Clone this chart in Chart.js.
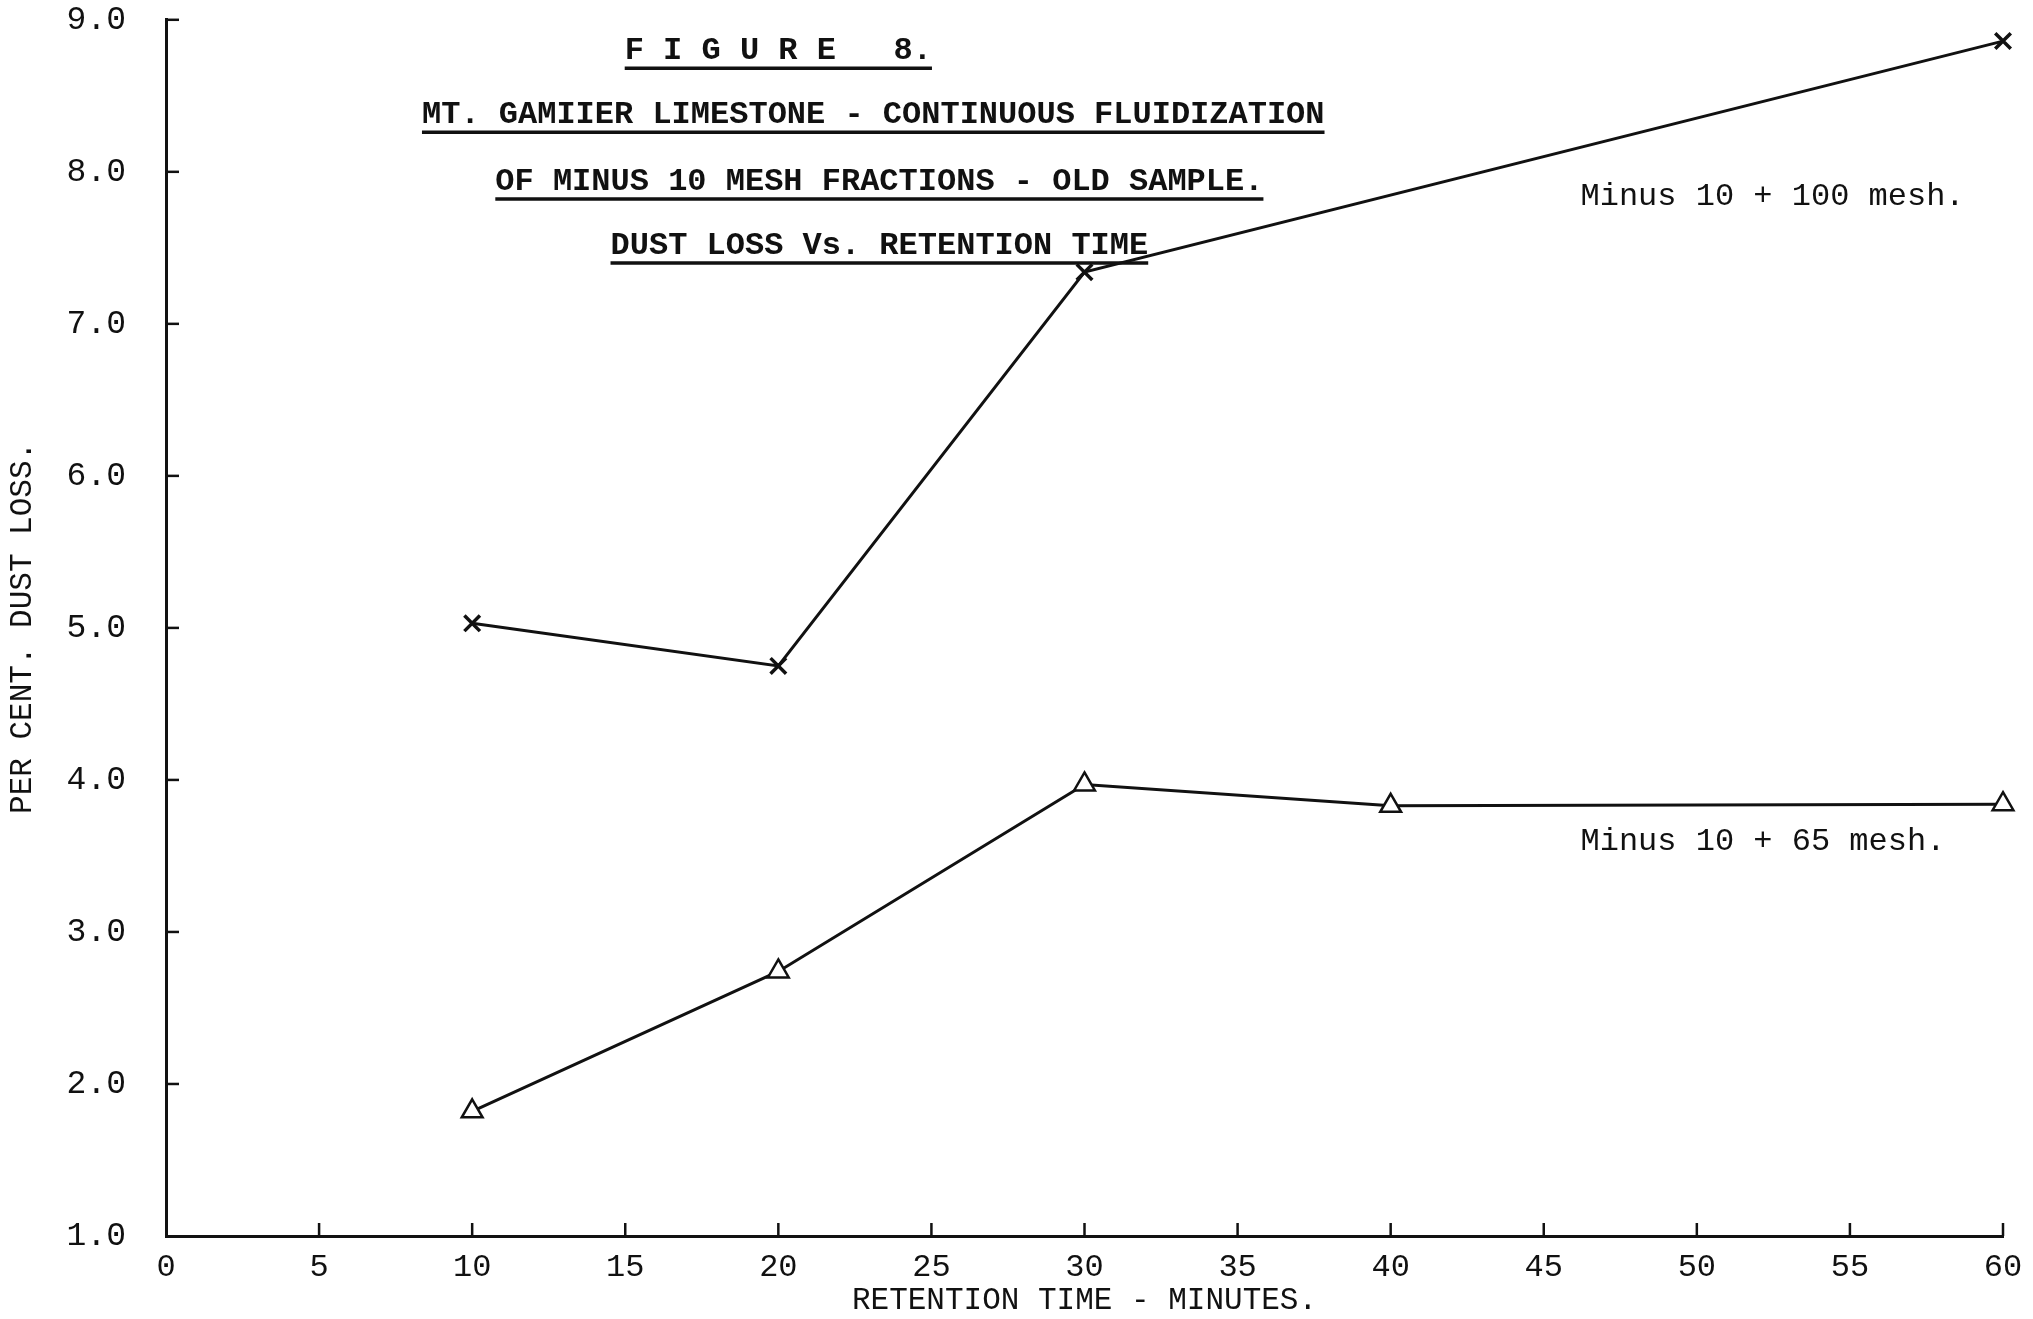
<!DOCTYPE html>
<html>
<head>
<meta charset="utf-8">
<title>Figure 8 - Dust Loss Vs. Retention Time</title>
<script src="https://cdn.jsdelivr.net/npm/chart.js@4.4.1/dist/chart.umd.min.js"></script>
<style>
  html, body { margin: 0; padding: 0; background: #ffffff; }
  #wrap { width: 2033px; height: 1319px; position: relative; }
</style>
</head>
<body>
<div id="wrap"><canvas id="dustChart"></canvas></div>
<script>
// retention time (minutes) and per cent dust loss
const timesCoarse = [10, 20, 30, 60];
const lossCoarse = [5.03, 4.75, 7.34, 8.86];    // minus 10 + 100 mesh (x marks)
const timesFine = [10, 20, 30, 40, 60];
const lossFine = [1.82, 2.74, 3.97, 3.83, 3.84]; // minus 10 + 65 mesh (triangles)

const xTickValues = [0, 5, 10, 15, 20, 25, 30, 35, 40, 45, 50, 55, 60];
const xTickLabels = ["0", "5", "10", "15", "20", "25", "30", "35", "40", "45", "50", "55", "60"];
const yTickValues = [1, 2, 3, 4, 5, 6, 7, 8, 9];
const yTickLabels = ["1.0", "2.0", "3.0", "4.0", "5.0", "6.0", "7.0", "8.0", "9.0"];

const seriesNames = ["Minus 10 + 100 mesh.", "Minus 10 + 65 mesh."];
const titleLines = [
    "F I G U R E   8.",
    "MT. GAMIIER LIMESTONE - CONTINUOUS FLUIDIZATION",
    "OF MINUS 10 MESH FRACTIONS - OLD SAMPLE.",
    "DUST LOSS Vs. RETENTION TIME"
];

const INK = "#111111";
const TYPE = "'Liberation Mono', 'Courier New', monospace";

function pairs(xs, ys) {
    return xs.map((x, i) => ({ x: x, y: ys[i] }));
}

// white paper behind everything
const paper = {
    id: "paper",
    beforeDraw(chart) {
        const ctx = chart.ctx;
        ctx.save();
        ctx.fillStyle = "#ffffff";
        ctx.fillRect(0, 0, chart.width, chart.height);
        ctx.restore();
    }
};

// short tick marks pointing into the plot, like the hand drawn axes
const innerTicks = {
    id: "innerTicks",
    afterDatasetsDraw(chart) {
        const ctx = chart.ctx;
        const xs = chart.scales.x, ys = chart.scales.y;
        const area = chart.chartArea;
        ctx.save();
        ctx.strokeStyle = INK;
        ctx.lineWidth = 2.5;
        xTickValues.forEach(v => {
            if (v === 0) return;
            const px = xs.getPixelForValue(v);
            ctx.beginPath();
            ctx.moveTo(px, area.bottom);
            ctx.lineTo(px, area.bottom - 13);
            ctx.stroke();
        });
        yTickValues.forEach(v => {
            if (v === 1) return;
            const py = ys.getPixelForValue(v);
            ctx.beginPath();
            ctx.moveTo(area.left, py);
            ctx.lineTo(area.left + 13, py);
            ctx.stroke();
        });
        ctx.restore();
    }
};

// typed heading and series notes, placed in data units
const notes = {
    id: "notes",
    afterDraw(chart) {
        const ctx = chart.ctx;
        const xs = chart.scales.x, ys = chart.scales.y;
        ctx.save();
        ctx.fillStyle = INK;
        ctx.strokeStyle = INK;
        ctx.textBaseline = "alphabetic";

        const heads = [
            { x: 20.0, y: 8.74 },
            { x: 23.1, y: 8.32 },
            { x: 23.3, y: 7.88 },
            { x: 23.3, y: 7.46 }
        ];
        ctx.font = "bold 32px " + TYPE;
        titleLines.forEach((line, i) => {
            const cx = xs.getPixelForValue(heads[i].x);
            const by = ys.getPixelForValue(heads[i].y);
            const w = ctx.measureText(line).width;
            ctx.textAlign = "center";
            ctx.fillText(line, cx, by);
            ctx.lineWidth = 3.5;
            ctx.beginPath();
            ctx.moveTo(cx - w / 2, by + 9);
            ctx.lineTo(cx + w / 2, by + 9);
            ctx.stroke();
        });

        ctx.font = "32px " + TYPE;
        ctx.textAlign = "left";
        ctx.fillText(seriesNames[0], xs.getPixelForValue(46.2), ys.getPixelForValue(7.78));
        ctx.fillText(seriesNames[1], xs.getPixelForValue(46.2), ys.getPixelForValue(3.54));
        ctx.restore();
    }
};

const ctx = document.getElementById("dustChart");

new Chart(ctx, {
    type: "line",
    data: {
        datasets: [
            {
                label: seriesNames[0],
                data: pairs(timesCoarse, lossCoarse),
                borderColor: INK,
                borderWidth: 3,
                pointStyle: "crossRot",
                pointRadius: 11,
                pointBorderWidth: 3.5,
                pointBorderColor: INK,
                pointBackgroundColor: "#ffffff",
                tension: 0,
                fill: false
            },
            {
                label: seriesNames[1],
                data: pairs(timesFine, lossFine),
                borderColor: INK,
                borderWidth: 3,
                pointStyle: "triangle",
                pointRadius: 12,
                pointBorderWidth: 2.5,
                pointBorderColor: INK,
                pointBackgroundColor: "#ffffff",
                tension: 0,
                fill: false
            }
        ]
    },
    options: {
        responsive: true,
        maintainAspectRatio: false,
        animation: false,
        clip: false,
        layout: { padding: { left: 4, right: 30, top: 16, bottom: 0 } },
        plugins: {
            legend: { display: false },
            title: { display: false },
            tooltip: { enabled: false }
        },
        scales: {
            x: {
                type: "linear",
                min: 0,
                max: 60,
                afterBuildTicks: scale => {
                    scale.ticks = xTickValues.map(v => ({ value: v }));
                },
                afterFit: scale => { scale.height = 83; },
                grid: { display: false, drawTicks: true, tickLength: 12 },
                border: { display: true, color: INK, width: 3 },
                ticks: {
                    color: INK,
                    padding: 0,
                    maxRotation: 0,
                    autoSkip: false,
                    font: { family: TYPE, size: 32 },
                    callback: (v) => xTickLabels[xTickValues.indexOf(v)]
                },
                title: {
                    display: true,
                    text: "RETENTION TIME - MINUTES.",
                    color: INK,
                    padding: { top: 0, bottom: 0 },
                    font: { family: TYPE, size: 31 }
                }
            },
            y: {
                type: "linear",
                min: 1,
                max: 9,
                afterBuildTicks: scale => {
                    scale.ticks = yTickValues.map(v => ({ value: v }));
                },
                afterFit: scale => { scale.width = 162; },
                grid: { display: false, drawTicks: true, tickLength: 40 },
                border: { display: true, color: INK, width: 3 },
                ticks: {
                    color: INK,
                    padding: 0,
                    font: { family: TYPE, size: 33 },
                    callback: (v) => yTickLabels[yTickValues.indexOf(v)]
                },
                title: {
                    display: true,
                    text: "PER CENT. DUST LOSS.",
                    color: INK,
                    padding: { top: 0, bottom: 0 },
                    font: { family: TYPE, size: 31 }
                }
            }
        }
    },
    plugins: [paper, innerTicks, notes]
});
</script>
</body>
</html>
